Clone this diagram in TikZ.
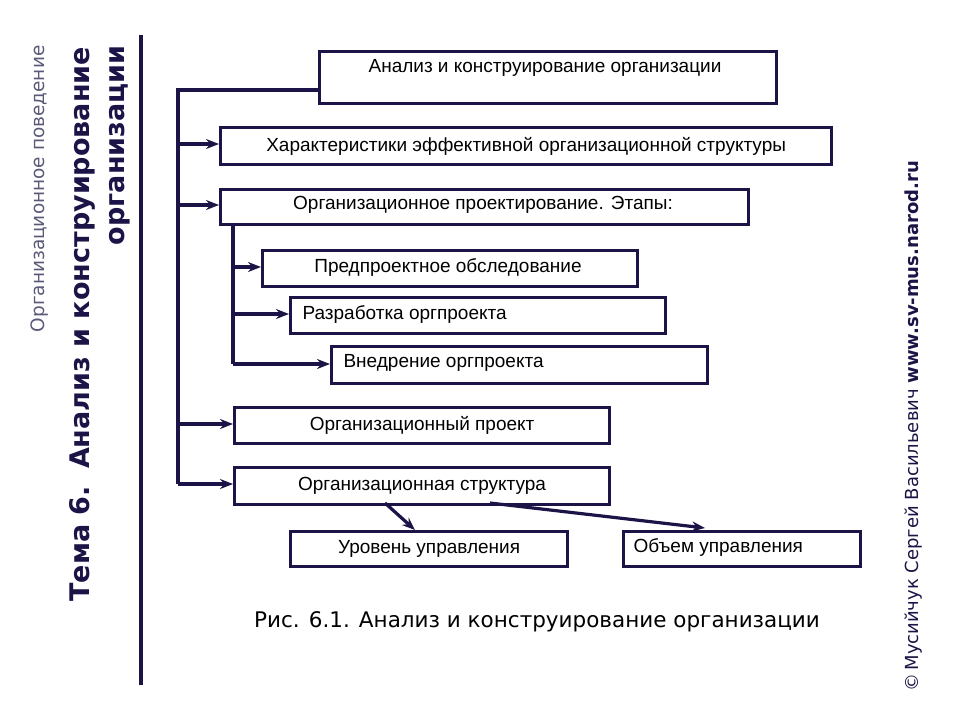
\documentclass[tikz,border=0pt]{standalone}
\usepackage{fontspec}
\setmainfont{Liberation Sans}
\newfontfamily\comic{DejaVu Sans}
\usetikzlibrary{arrows.meta}
\definecolor{navy}{HTML}{1C1446}
\definecolor{grayblue}{HTML}{5A5A78}
\begin{document}
\begin{tikzpicture}[x=1pt,y=-1pt,
  bx/.style={draw=navy,line width=3.2pt,inner sep=0pt,anchor=north west,font=\fontsize{19}{21}\selectfont},
  tx/.style={font=\fontsize{19}{21}\selectfont},
  ln/.style={draw=navy,line width=3.2pt},
  ar/.style={ln,-{Stealth[length=13pt,width=10pt]}}]
\useasboundingbox (0,0) rectangle (960,720);
% boxes
\node[bx,minimum width=457pt,minimum height=52pt] (b1) at (318,50) {};
\node[tx] at (545,68) {Анализ и конструирование организации};
\node[bx,minimum width=611pt,minimum height=37pt] (b2) at (219,126) {Характеристики эффективной организационной  структуры};
\node[bx,minimum width=528pt,minimum height=35pt] (b3) at (219,188) {};
\node[tx] at (483,205) {Организационное проектирование. Этапы:};
\node[bx,minimum width=375pt,minimum height=36pt] (b4) at (261,249) {};
\node[tx] at (448,267) {Предпроектное обследование};
\node[bx,minimum width=375pt,minimum height=36pt] (b5) at (289,296) {};
\node[tx,anchor=west] at (299,314) {Разработка оргпроекта};
\node[bx,minimum width=376pt,minimum height=37pt] (b6) at (330,345) {};
\node[tx,anchor=west] at (340,363) {Внедрение оргпроекта};
\node[bx,minimum width=375pt,minimum height=36pt] (b7) at (233,406) {Организационный проект};
\node[bx,minimum width=375pt,minimum height=37pt] (b8) at (233,466) {Организационная структура};
\node[bx,minimum width=277pt,minimum height=35pt] (b9) at (289,530) {Уровень управления};
\node[bx,minimum width=237pt,minimum height=35pt] (b10) at (622,530) {};
\node[tx,anchor=west] at (630,547) {Объем управления};
% buses
\coordinate (t) at (178,90);
\coordinate (bb) at (178,484);
\draw[ln] (b1.west |- t) -- (t) -- (bb);
\draw[ar] (178,144) -- (b2.west |- 0,144);
\draw[ar] (178,205) -- (b3.west |- 0,205);
\draw[ar] (178,424) -- (b7.west |- 0,424);
\draw[ar] (bb) -- (b8.west |- bb);
\draw[ln] (233,223) -- (233,364);
\draw[ar] (233,267) -- (b4.west |- 0,267);
\draw[ar] (233,314) -- (b5.west |- 0,314);
\draw[ar] (233,364) -- (b6.west |- 0,364);
\draw[ar] (385,503) -- (415,530);
\draw[ar] (490,503) -- (705,528);
% side line
\draw[draw=navy,line width=3.5pt] (141,35) -- (141,685);
% titles
\node[rotate=90,anchor=east,text=grayblue,font=\comic\fontsize{18.5}{20}\selectfont] at (40,42) {Организационное поведение};
\node[rotate=90,anchor=west,text=navy,font=\comic\bfseries\fontsize{27}{30}\selectfont] at (82,605) {Тема 6.\, Анализ и конструирование};
\node[rotate=90,anchor=east,text=navy,font=\comic\bfseries\fontsize{27}{30}\selectfont] at (120,42) {организации};
\node[rotate=90,anchor=west,text=navy,font=\comic\fontsize{18}{20}\selectfont] at (914,695) {©\,Мусийчук Сергей Васильевич \textbf{www.sv-mus.narod.ru}};
\node[font=\comic\fontsize{21.5}{25}\selectfont] (cap) at (537,622) {Рис. 6.1. Анализ и конструирование организации};
\end{tikzpicture}
\end{document}
